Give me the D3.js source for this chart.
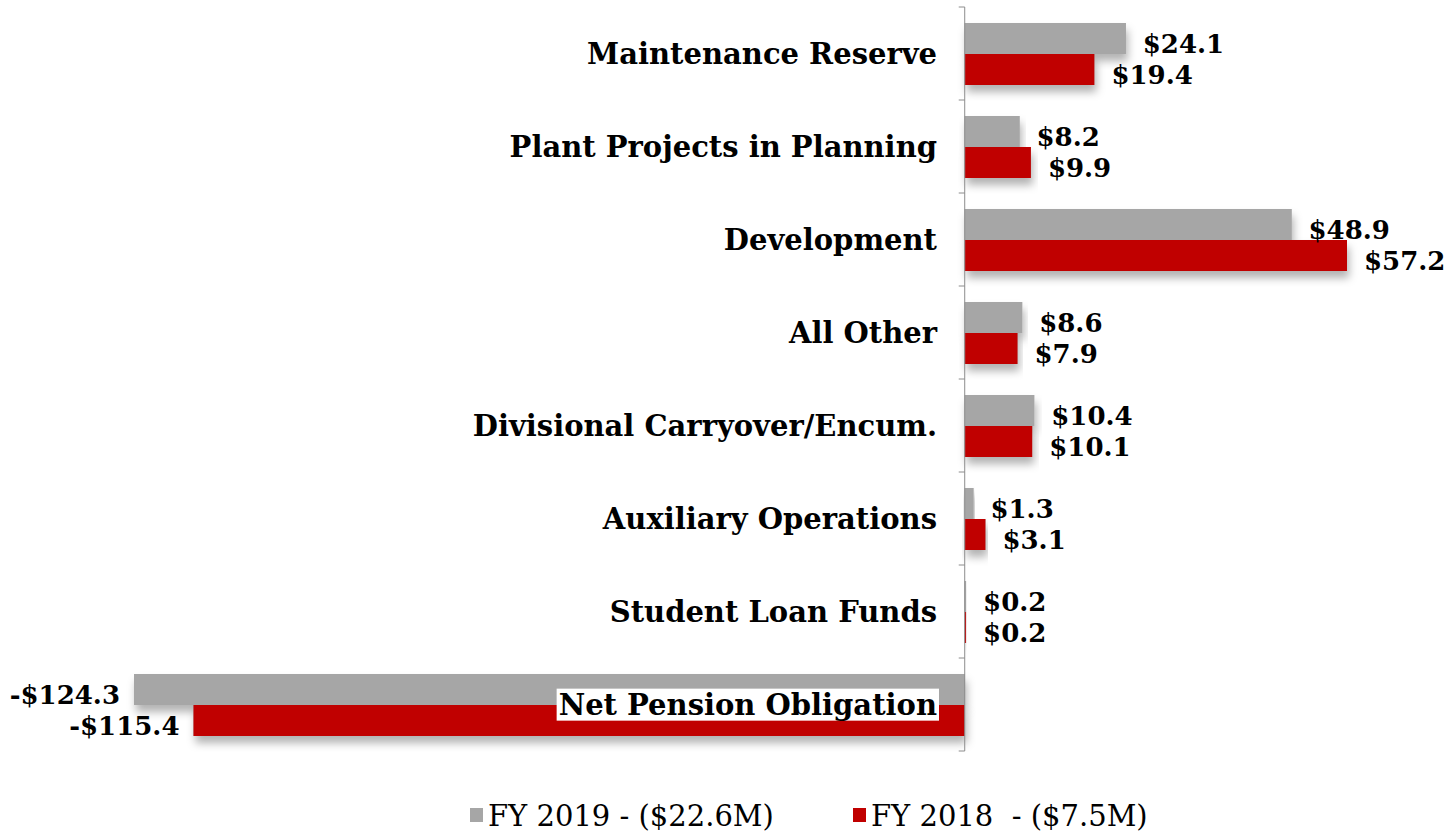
<!DOCTYPE html>
<meta charset="utf-8">
<style>
body { margin: 0; background: #fff; }
svg text { font-family: "DejaVu Serif", "Liberation Serif", serif; }
.cat { font-weight: bold; font-size: 29px; fill: #000; }
.val { font-weight: bold; font-size: 26px; fill: #000; }
.leg { font-size: 29px; fill: #000; }
.axis path, .axis line { stroke: #8c8c8c; }
</style>
<body>
<svg width="1448" height="833"></svg>
<script src="https://d3js.org/d3.v7.min.js"></script>
<script>

var categories = ["Maintenance Reserve", "Plant Projects in Planning", "Development", "All Other",
                  "Divisional Carryover/Encum.", "Auxiliary Operations", "Student Loan Funds", "Net Pension Obligation"];
var fy2019 = [24.1, 8.2, 48.9, 8.6, 10.4, 1.3, 0.2, -124.3];
var fy2018 = [19.4, 9.9, 57.2, 7.9, 10.1, 3.1, 0.2, -115.4];
var seriesNames = ["FY 2019 - ($22.6M)", "FY 2018  - ($7.5M)"];
var seriesColors = ["#a6a6a6", "#c00000"];

var svg = d3.select("svg");

var x = d3.scaleLinear()
    .domain([-124.3, 57.2])
    .range([134, 1347]);

var y0 = d3.scaleBand()
    .domain(categories)
    .range([7, 751]);

var y1 = d3.scaleBand()
    .domain([0, 1])
    .range([16, y0.bandwidth() - 15]);

var defs = svg.append("defs");
var f = defs.append("filter").attr("id", "shadow")
    .attr("x", "-10%").attr("y", "-50%").attr("width", "120%").attr("height", "200%");
f.append("feDropShadow")
    .attr("dx", 2).attr("dy", 7)
    .attr("stdDeviation", 4)
    .attr("flood-color", "#000")
    .attr("flood-opacity", 0.3);

var data = categories.map(function(c, i) {
  return {cat: c, vals: [fy2019[i], fy2018[i]]};
});

var groups = svg.selectAll(".grp")
  .data(data)
  .enter().append("g")
    .attr("class", "grp")
    .attr("transform", function(d) { return "translate(0," + y0(d.cat) + ")"; });

// shadows first, so they sit behind every bar
groups.selectAll(".shd")
  .data(function(d) { return d.vals; })
  .enter().append("rect")
    .attr("x", function(v) { return x(Math.min(0, v)); })
    .attr("y", function(v, i) { return y1(i); })
    .attr("width", function(v) { return Math.abs(x(v) - x(0)); })
    .attr("height", y1.bandwidth())
    .attr("fill", "#a0a0a0")
    .attr("filter", "url(#shadow)");

groups.selectAll(".bar")
  .data(function(d) { return d.vals; })
  .enter().append("rect")
    .attr("class", "bar")
    .attr("x", function(v) { return x(Math.min(0, v)); })
    .attr("y", function(v, i) { return y1(i); })
    .attr("width", function(v) { return Math.abs(x(v) - x(0)); })
    .attr("height", y1.bandwidth())
    .attr("fill", function(v, i) { return seriesColors[i]; });

groups.selectAll(".val")
  .data(function(d) { return d.vals; })
  .enter().append("text")
    .attr("class", "val")
    .attr("x", function(v) { return v < 0 ? x(v) - 14 : x(v) + 17; })
    .attr("y", function(v, i) { return y1(i) + y1.bandwidth() / 2 + 5; })
    .attr("dy", "0.35em")
    .attr("text-anchor", function(v) { return v < 0 ? "end" : "start"; })
    .text(function(v) { return (v < 0 ? "-$" : "$") + Math.abs(v).toFixed(1); });

// axis at zero
var axis = svg.append("g")
    .attr("class", "axis")
    .attr("transform", "translate(" + x(0) + ",0)")
    .call(d3.axisLeft(y0).tickSize(0).tickFormat(""));

axis.selectAll(".tick").remove();
axis.select(".domain").attr("d", "M-6," + y0.range()[0] + "H0V" + y0.range()[1] + "H-6");
categories.slice(1).forEach(function(c) {
  axis.append("line").attr("x1", -6).attr("x2", 0)
    .attr("y1", y0(c)).attr("y2", y0(c));
});

// category labels
var labels = svg.selectAll(".catg")
  .data(categories)
  .enter().append("g")
    .attr("class", "catg");

labels.append("text")
    .attr("class", "cat")
    .attr("x", 937)
    .attr("y", function(c) { return y0(c) + y0.bandwidth() / 2; })
    .attr("dy", "0.35em")
    .attr("text-anchor", "end")
    .text(function(c) { return c; });

// white box behind the label that overlaps the negative bars
labels.filter(function(c, i) { return fy2019[i] < 0; })
  .each(function() {
    var t = d3.select(this).select("text");
    var b = t.node().getBBox();
    d3.select(this).insert("rect", "text")
      .attr("x", b.x - 2).attr("y", b.y + 1)
      .attr("width", b.width + 4).attr("height", b.height - 2)
      .attr("fill", "#fff");
  });

// legend
var legX = [470, 853];
var leg = svg.selectAll(".leg")
  .data(seriesNames)
  .enter().append("g")
    .attr("transform", function(d, i) { return "translate(" + legX[i] + ",808)"; });

leg.append("rect")
    .attr("width", 13).attr("height", 14)
    .attr("fill", function(d, i) { return seriesColors[i]; });

leg.append("text")
    .attr("class", "leg")
    .attr("x", 18)
    .attr("y", 8)
    .attr("dy", "0.35em")
    .attr("xml:space", "preserve")
    .text(function(d) { return d; });

</script>
</body>
